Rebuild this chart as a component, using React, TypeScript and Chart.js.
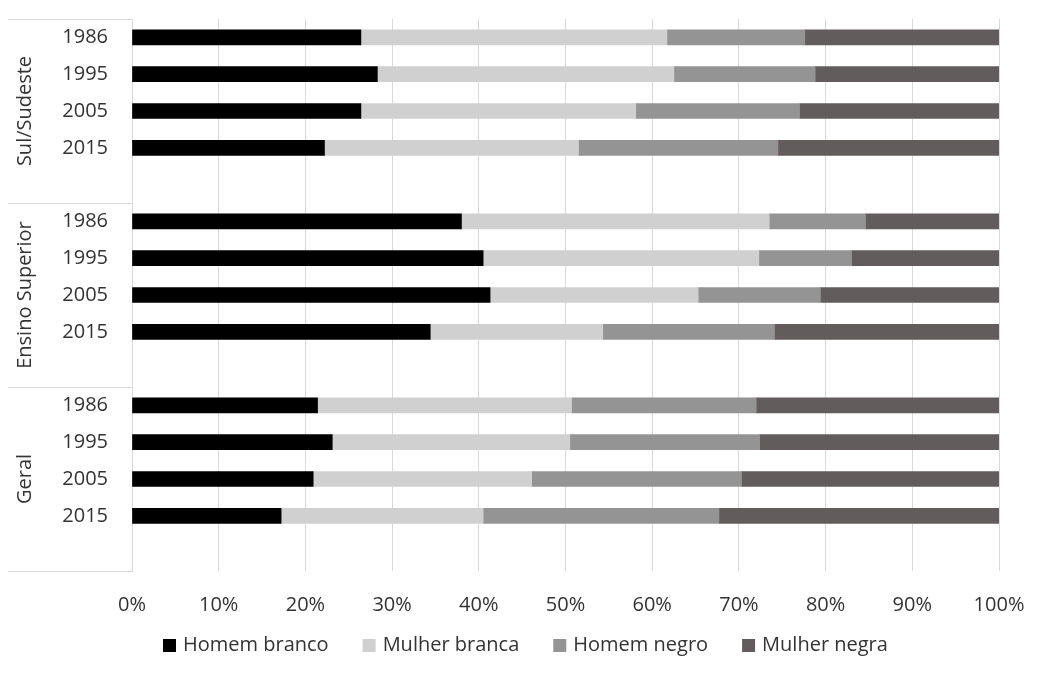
import React, { useEffect, useRef } from 'react';
import { Chart, registerables } from 'chart.js';

Chart.register(...registerables);

// ---- Data ----
const categories = [
  '1986', '1995', '2005', '2015', '',
  '1986', '1995', '2005', '2015', '',
  '1986', '1995', '2005', '2015', '',
];
const groupNames = ['Sul/Sudeste', 'Ensino Superior', 'Geral'];
const seriesNames = ['Homem branco', 'Mulher branca', 'Homem negro', 'Mulher negra'];
const homemBranco = [26.4, 28.3, 26.4, 22.2, null, 38.0, 40.5, 41.3, 34.4, null, 21.4, 23.1, 20.9, 17.2, null];
const mulherBranca = [35.3, 34.2, 31.7, 29.3, null, 35.5, 31.8, 24.0, 19.9, null, 29.3, 27.4, 25.2, 23.3, null];
const homemNegro = [15.9, 16.3, 18.9, 23.0, null, 11.1, 10.7, 14.1, 19.8, null, 21.3, 21.9, 24.2, 27.2, null];
const mulherNegra = [22.4, 21.2, 23.0, 25.5, null, 15.4, 17.0, 20.6, 25.9, null, 28.0, 27.6, 29.7, 32.3, null];
const xTickSuffix = '%';

const seriesColors = ['#000000', '#d0d0d0', '#949494', '#625d5c'];
const textColor = '#333333';
const gridColor = '#d9d9d9';
const fontFamily = "'Open Sans', sans-serif";
const fontSize = 20;

const groupPlugin = {
  id: 'groupLabels',
  afterDraw(chart: any) {
    const { ctx, chartArea, scales } = chart;
    const y = scales.y;
    const bounds = [
      chartArea.top,
      y.getPixelForValue(4.5),
      y.getPixelForValue(9.5),
      chartArea.bottom,
    ];
    ctx.save();
    ctx.strokeStyle = gridColor;
    ctx.lineWidth = 1;
    bounds.forEach((b: number) => {
      const yy = Math.round(b) + 0.5;
      ctx.beginPath();
      ctx.moveTo(8, yy);
      ctx.lineTo(chartArea.left, yy);
      ctx.stroke();
    });
    ctx.fillStyle = textColor;
    ctx.font = `${fontSize}px ${fontFamily}`;
    ctx.textAlign = 'center';
    ctx.textBaseline = 'middle';
    groupNames.forEach((g, i) => {
      const cy = (bounds[i] + bounds[i + 1]) / 2;
      ctx.save();
      ctx.translate(25, cy);
      ctx.rotate(-Math.PI / 2);
      ctx.fillText(g, 0, 0);
      ctx.restore();
    });

    // Legend (bottom, centred)
    const box = 13;
    const gap = 7;
    const itemGap = 34;
    const legendY = 645;
    ctx.textAlign = 'left';
    const items = chart.data.datasets.map((ds: any) => ({
      label: ds.label as string,
      color: ds.backgroundColor as string,
      w: ctx.measureText(ds.label).width,
    }));
    const total = items.reduce((s: number, it: any) => s + box + gap + it.w, 0) + itemGap * (items.length - 1);
    let x = Math.round((chart.width - total) / 2) + 3;
    items.forEach((it: any) => {
      ctx.fillStyle = it.color;
      ctx.fillRect(x, Math.round(legendY - box / 2), box, box);
      ctx.fillStyle = textColor;
      ctx.fillText(it.label, x + box + gap, legendY);
      x += box + gap + it.w + itemGap;
    });
    ctx.restore();
  },
};

export default function App() {
  const canvasRef = useRef<HTMLCanvasElement | null>(null);

  useEffect(() => {
    document.body.style.margin = '0';
    const canvas = canvasRef.current;
    if (!canvas) return;
    const seriesData = [homemBranco, mulherBranca, homemNegro, mulherNegra];
    const chart = new Chart(canvas, {
      type: 'bar',
      data: {
        labels: categories,
        datasets: seriesNames.map((name, i) => ({
          label: name,
          data: seriesData[i] as any,
          backgroundColor: seriesColors[i],
          borderWidth: 0,
          barThickness: 15,
        })),
      },
      options: {
        indexAxis: 'y',
        animation: false,
        responsive: true,
        maintainAspectRatio: false,
        layout: { padding: { top: 19, right: 45, left: 0, bottom: 0 } },
        plugins: {
          tooltip: { enabled: false },
          legend: { display: false },
        },
        scales: {
          x: {
            stacked: true,
            min: 0,
            max: 100,
            ticks: {
              stepSize: 10,
              padding: 0,
              color: textColor,
              font: { family: fontFamily, size: fontSize },
              callback: (v: any) => `${v}${xTickSuffix}`,
            },
            grid: {
              color: gridColor,
              lineWidth: 1,
              drawTicks: true,
              tickLength: 22,
              tickColor: 'rgba(0,0,0,0)',
            },
            border: { display: false },
            afterFit: (scale: any) => {
              scale.height = 103;
            },
          },
          y: {
            stacked: true,
            ticks: {
              padding: 0,
              color: textColor,
              font: { family: fontFamily, size: fontSize },
              autoSkip: false,
            },
            grid: {
              display: true,
              color: 'rgba(0,0,0,0)',
              drawTicks: true,
              tickLength: 24,
              tickColor: 'rgba(0,0,0,0)',
            },
            border: { display: true, color: gridColor, width: 1 },
            afterFit: (scale: any) => {
              scale.width = 132;
            },
          },
        },
      },
      plugins: [groupPlugin],
    });
    return () => chart.destroy();
  }, []);

  return (
    <div style={{ position: 'relative', width: 1044, height: 674 }}>
      <canvas ref={canvasRef} />
    </div>
  );
}
